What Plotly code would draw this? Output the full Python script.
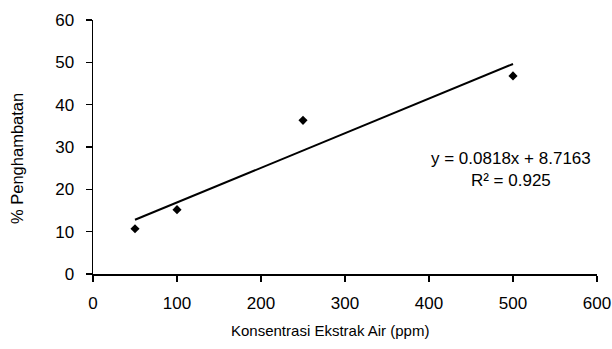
import plotly.graph_objects as go

conc = [50, 100, 250, 500]
inhibition = [10.7, 15.2, 36.3, 46.8]
slope = 0.0818
intercept = 8.7163
r2 = 0.925
x_ticks = [0, 100, 200, 300, 400, 500, 600]
y_ticks = [0, 10, 20, 30, 40, 50, 60]

FONT = "Liberation Sans, Arial, sans-serif"

trend_x = [min(conc), max(conc)]
trend_y = [slope * v + intercept for v in trend_x]

W, H = 612, 349
L, R, T, B = 93, 15, 20, 75
PW, PH = W - L - R, H - T - B
X0, Y0 = L, H - B  # plot origin in pixels


def px_x(px):
    return (px - X0) / PW


def px_y(py):
    return (Y0 - py) / PH


fig = go.Figure()
fig.add_trace(go.Scatter(x=trend_x, y=trend_y, mode="lines",
                         line=dict(color="black", width=2), showlegend=False))
fig.add_trace(go.Scatter(x=conc, y=inhibition, mode="markers",
                         marker=dict(symbol="diamond", size=7, color="black"),
                         showlegend=False))

axis_common = dict(ticks="outside", ticklen=6, tickwidth=1.5, tickcolor="black",
                   showline=True, linecolor="black", linewidth=1.5,
                   showgrid=False, zeroline=False, automargin=False,
                   tickfont=dict(size=17))

ann_common = dict(xref="paper", yref="paper", showarrow=False,
                  xanchor="center", yanchor="middle")

fig.update_layout(
    width=W, height=H,
    margin=dict(l=L, r=R, t=T, b=B),
    paper_bgcolor="white", plot_bgcolor="white",
    font=dict(family=FONT, size=17, color="black"),
    xaxis=dict(range=[0, 600], tickvals=x_ticks, ticklabelstandoff=7, **axis_common),
    yaxis=dict(range=[0, 60], tickvals=y_ticks, ticklabelstandoff=8, **axis_common),
    annotations=[
        dict(text=f"y = {slope}x + {intercept}<br>R² = {r2}",
             x=px_x(511), y=px_y(169), font=dict(size=17), **ann_common),
        dict(text="Konsentrasi Ekstrak Air (ppm)",
             x=px_x(330), y=px_y(330), font=dict(size=15), **ann_common),
        dict(text="% Penghambatan", textangle=-90,
             x=px_x(17), y=px_y(159), font=dict(size=16.5), **ann_common),
    ],
)
fig.write_html("out.html",
               config={"displayModeBar": False, "staticPlot": True},
               post_script="document.body.style.margin='0';"
                           "document.body.style.overflow='hidden';")
